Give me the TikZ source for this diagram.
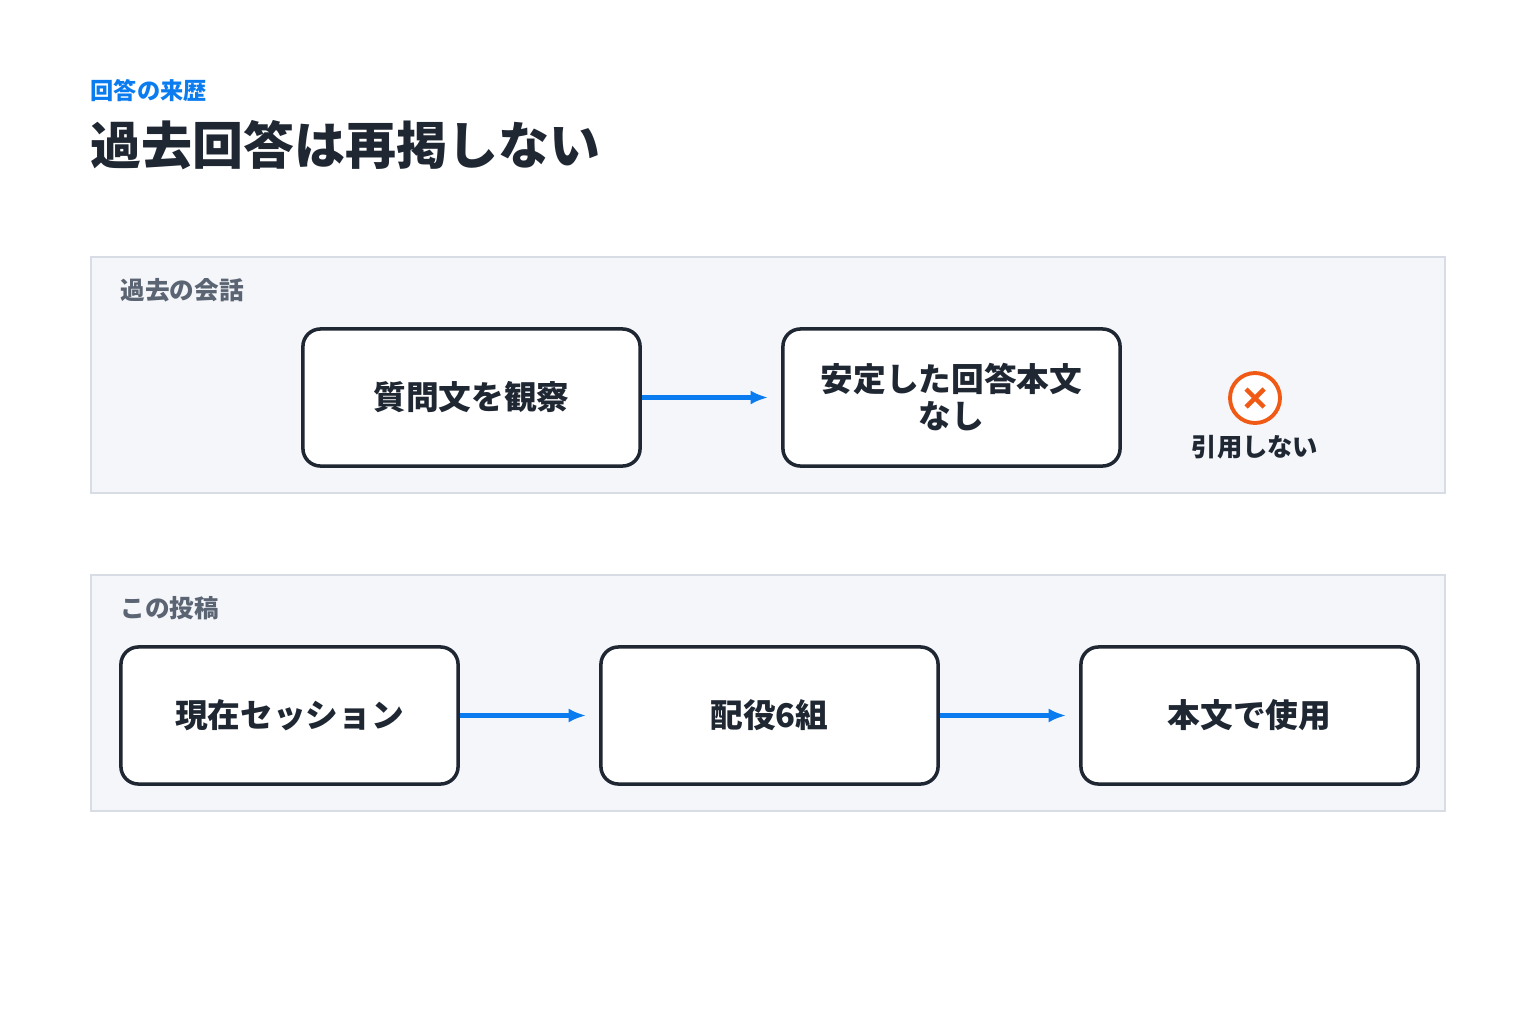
\documentclass[tikz,border=0pt]{standalone}
\usepackage{fontspec}
\setmainfont{Noto Sans CJK JP}
\usetikzlibrary{arrows.meta}
\definecolor{ink}{HTML}{1F2733}
\definecolor{accent}{HTML}{0A7CF0}
\definecolor{panelbg}{HTML}{F4F6FA}
\definecolor{panelline}{HTML}{D8DDE5}
\definecolor{muted}{HTML}{5B6472}
\definecolor{warn}{HTML}{F05A14}
\tikzset{
  panel/.style={draw=panelline,fill=panelbg,line width=0.5pt},
  stage/.style={draw=ink,fill=white,rounded corners=5pt,line width=1pt,
    minimum width=3.37cm,minimum height=1.37cm,align=center,
    font=\fontsize{9.3}{10.5}\selectfont\bfseries,text=ink},
  flow/.style={-{Latex[length=5pt,width=4pt]},accent,line width=1.3pt,shorten >=3.7pt},
  tag/.style={anchor=west,font=\fontsize{7}{8}\selectfont\bfseries,text=muted}
}
\begin{document}
\begin{tikzpicture}[x=0.01cm,y=-0.01cm]
\useasboundingbox (0,0) rectangle (1536,1024);
% heading
\node[anchor=west,font=\fontsize{6.6}{8}\selectfont\bfseries,text=accent,inner sep=0] (kicker) at (90,91) {回答の来歴};
\node[anchor=west,font=\fontsize{14.5}{16}\selectfont\bfseries,text=ink,inner sep=0] (title) at (90,145) {過去回答は再掲しない};

% past conversation
\draw[panel] (91,257) rectangle (1445,493);
\node[tag,inner sep=0] (pastlabel) at (120,290) {過去の会話};
\node[stage] (observe) at (471.5,397.5) {質問文を観察};
\node[stage] (answer) at (951.5,397.5) {安定した回答本文\\なし};
\draw[flow] (observe.east) -- (answer.west);
\draw[warn,line width=1.1pt,fill=white] (1255,398) circle (25);
\draw[warn,line width=1.3pt] (1246,389) -- (1264,407) (1264,389) -- (1246,407);
\node[font=\fontsize{7.2}{8}\selectfont\bfseries,text=ink] (noquote) at (1255,447) {引用しない};

% this post
\draw[panel] (91,575) rectangle (1445,811);
\node[tag,inner sep=0] (postlabel) at (120,608) {この投稿};
\node[stage] (session) at (289.5,715.5) {現在セッション};
\node[stage] (deal) at (769.5,715.5) {配役6組};
\node[stage] (body) at (1249.5,715.5) {本文で使用};
\draw[flow] (session.east) -- (deal.west);
\draw[flow] (deal.east) -- (body.west);
\end{tikzpicture}
\end{document}
